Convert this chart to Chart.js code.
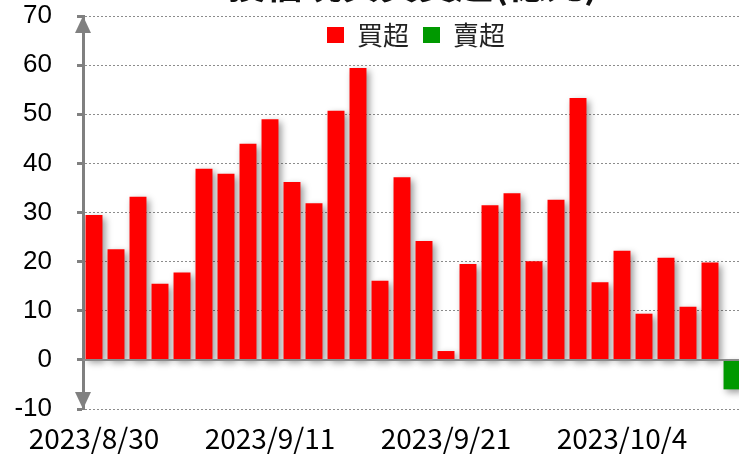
<!DOCTYPE html>
<html>
<head>
<meta charset="utf-8">
<script src="https://cdn.jsdelivr.net/npm/chart.js@4/dist/chart.umd.min.js"></script>
<style>
  html, body { margin: 0; padding: 0; background: #fff; overflow: hidden; width: 739px; height: 465px; }
  #wrap { width: 739px; height: 465px; overflow: hidden; position: relative; }
  canvas { display: block; }
</style>
</head>
<body>
<div id="wrap"><canvas id="c" width="743" height="465"></canvas></div>
<script>
const chartTitle = "投信現貨買賣超(億元)";
const dates = ["2023/8/30","2023/8/31","2023/9/1","2023/9/4","2023/9/5","2023/9/6","2023/9/7","2023/9/8",
  "2023/9/11","2023/9/12","2023/9/13","2023/9/14","2023/9/15","2023/9/18","2023/9/19","2023/9/20",
  "2023/9/21","2023/9/22","2023/9/25","2023/9/26","2023/9/27","2023/9/28","2023/10/2","2023/10/3",
  "2023/10/4","2023/10/5","2023/10/6","2023/10/11","2023/10/12","2023/10/13"];
const netValues = [29.5,22.5,33.2,15.5,17.8,38.9,37.9,44.0,49.0,36.2,31.9,50.7,59.4,16.1,37.2,
  24.2,1.8,19.5,31.5,33.9,20.1,32.6,53.3,15.8,22.2,9.4,20.8,10.8,19.8,-6.0];
const seriesNames = ["買超", "賣超"];
const yTicks = { min: -10, max: 70, step: 10 };
const labelEvery = 8;

const buyValues = netValues.map(v => v >= 0 ? v : null);
const sellValues = netValues.map(v => v < 0 ? v : null);

const shadowPlugin = {
  id: 'barShadow',
  beforeLayout(chart) {
    const lg = chart.legend;
    if (lg && !lg._patched) {
      const f = lg.fit;
      lg.fit = function() { f.call(this); this._realH = this.height; this.height = 0; };
      lg._patched = true;
    }
  },
  afterLayout(chart) {
    const lg = chart.legend;
    const a = chart.chartArea;
    if (lg) {
      lg.top = 8;
      lg.height = lg._realH || 40;
      lg.bottom = lg.top + lg.height;
      lg.left = a.left + 3;
      lg.right = a.right + 3;
      lg.width = a.right - a.left;
    }
  },
  beforeDatasetsDraw(chart) {
    const c = chart.ctx;
    c.save();
    c.shadowColor = 'rgba(0,0,0,0.4)';
    c.shadowBlur = 7;
    c.shadowOffsetX = 3;
    c.shadowOffsetY = 3;
  },
  afterDatasetsDraw(chart) {
    const c = chart.ctx;
    c.restore();
    const y = chart.scales.y.getPixelForValue(0);
    const a = chart.chartArea;
    c.save();
    c.strokeStyle = '#8a8a8a';
    c.lineWidth = 2;
    c.beginPath();
    c.moveTo(a.left, y);
    c.lineTo(a.right, y);
    c.stroke();
    c.restore();
  },
  afterDraw(chart) {
    const c = chart.ctx;
    const a = chart.chartArea;
    const x = a.left;
    c.save();
    c.fillStyle = '#808080';
    c.beginPath();
    c.moveTo(x, a.top);
    c.lineTo(x - 8, a.top + 17);
    c.lineTo(x + 8, a.top + 17);
    c.closePath();
    c.fill();
    c.beginPath();
    c.moveTo(x, a.bottom);
    c.lineTo(x - 8, a.bottom - 17);
    c.lineTo(x + 8, a.bottom - 17);
    c.closePath();
    c.fill();
    c.fillStyle = '#111';
    c.font = 'bold 38px "Noto Sans CJK TC"';
    c.textAlign = 'center';
    c.textBaseline = 'alphabetic';
    c.fillText(chartTitle, (a.left + a.right) / 2, -2);
    c.restore();
  }
};

new Chart(document.getElementById('c'), {
  type: 'bar',
  data: {
    labels: dates,
    datasets: [
      { label: seriesNames[0], data: buyValues, backgroundColor: '#ff0000', grouped: false,
        barPercentage: 0.77, categoryPercentage: 1.0 },
      { label: seriesNames[1], data: sellValues, backgroundColor: '#009900', grouped: false,
        barPercentage: 0.77, categoryPercentage: 1.0 }
    ]
  },
  options: {
    responsive: false,
    devicePixelRatio: 1,
    animation: false,
    events: [],
    layout: { padding: { top: 16, left: 0, right: 0, bottom: 0 } },
    plugins: {
      legend: {
        position: 'top',
        align: 'center',
        labels: {
          boxWidth: 17,
          boxHeight: 16,
          padding: 14,
          color: '#222',
          font: { family: '"Noto Sans CJK TC"', size: 26 }
        }
      },
      tooltip: { enabled: false },
      title: { display: false }
    },
    scales: {
      x: {
        type: 'category',
        grid: { display: false, drawTicks: false },
        border: { display: false },
        ticks: {
          autoSkip: false,
          maxRotation: 0,
          minRotation: 0,
          padding: 13,
          color: '#000',
          font: { family: '"Noto Sans CJK TC"', size: 28 },
          callback: function(val, idx) { return idx % labelEvery === 0 ? this.getLabelForValue(val) : ''; }
        },
        afterFit(scale) { scale.height = 56; scale.paddingLeft = 0; scale.paddingRight = 0; }
      },
      y: {
        min: yTicks.min,
        max: yTicks.max,
        grid: {
          color: '#8c8c8c',
          lineWidth: 1,
          drawTicks: true,
          tickLength: 6,
          tickColor: '#808080',
          tickWidth: 3
        },
        border: { display: true, color: '#808080', width: 3, dash: [2, 2] },
        ticks: {
          stepSize: yTicks.step,
          padding: 25,
          color: '#000',
          font: { family: '"Liberation Sans"', size: 26 }
        },
        afterFit(scale) { scale.width = 83; scale.paddingTop = 0; scale.paddingBottom = 0; }
      }
    }
  },
  plugins: [shadowPlugin]
});
</script>
</body>
</html>
